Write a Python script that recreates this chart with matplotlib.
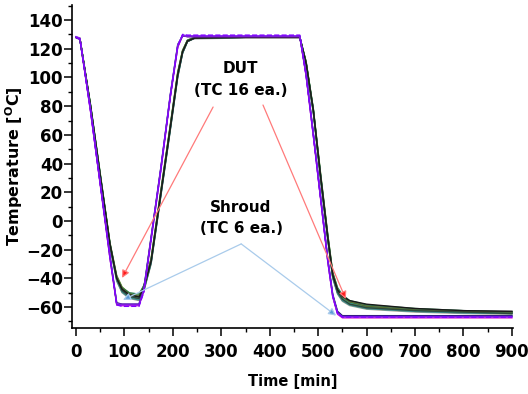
import matplotlib
matplotlib.use("Agg")
import matplotlib.pyplot as plt
from matplotlib.ticker import MultipleLocator

plt.rcParams['font.family'] = ['DejaVu Sans']
plt.rcParams['font.weight'] = 'bold'
plt.rcParams['mathtext.default'] = 'bf'

# time grid [min]
t = [0, 8, 30, 50, 70, 84, 95, 110, 130, 140, 155, 175, 195, 210, 220, 230, 245, 350,
     462, 475, 490, 505, 520, 530, 540, 550, 565, 600, 700, 800, 900]

# DUT thermocouples
dut_1 = [128, 127, 80, 32, -16, -40, -48, -52, -53.5, -47, -28, 19, 66, 102, 118, 125.5, 127.5, 128,
         128, 110, 77, 31, -12, -38, -49, -54, -57.5, -60.5, -62.5, -63.5, -64]
dut_2 = [128, 127, 79, 30, -18, -42, -50, -54, -55.5, -49, -30, 17, 64, 100, 117, 125, 127.5, 128,
         128, 109, 75, 29, -14, -40, -51, -56, -59, -61.5, -63.5, -64.5, -65]
dut_3 = [128, 127.5, 81, 33, -15, -38, -46, -50.5, -52, -45, -26, 21, 68, 104, 119, 126, 128, 128,
         128, 111, 78, 33, -10, -36, -47, -52.5, -56.5, -59.5, -62, -63, -63.5]
dut_4 = [128, 127, 80, 31, -17, -41, -49, -53, -54, -48, -29, 18, 65, 101, 117.5, 125, 127.5, 128,
         128, 110, 76, 30, -13, -39, -50, -55, -58.5, -61, -63, -64, -64.5]
dut_5 = [127.5, 126.5, 79.5, 31.5, -16.5, -39, -47, -51, -52.5, -46, -27, 20, 67, 103, 118.5, 125.5, 127, 127.5,
         127.5, 110, 77, 32, -11, -37, -48, -53, -56, -59, -61.5, -62.5, -63]
dut_6 = [128, 127, 80.5, 32.5, -15.5, -39.5, -47.5, -51.5, -53, -46.5, -27.5, 19.5, 66.5, 102.5, 118, 125.5, 127.5, 128,
         128, 110.5, 77.5, 31.5, -11.5, -37.5, -48.5, -53.5, -57, -60, -62, -63, -63.5]
dut_7 = [128, 127, 79.5, 31, -17, -40.5, -49, -53, -54.5, -48, -29, 18, 65, 101, 117, 125, 127.5, 128,
         128, 109.5, 76, 30, -13, -39, -50, -55, -58, -60.5, -62.5, -63.5, -64]
dut_8 = [128, 127, 80, 32, -16, -39, -46.5, -50, -51, -45, -27, 20, 67, 103, 118.5, 126, 128, 128,
         128, 111, 78, 32, -10.5, -36, -46.5, -51.5, -55.5, -58.5, -61, -62.5, -63.5]
dut_9 = [128, 127, 79, 30.5, -17.5, -41.5, -49.5, -53.5, -55, -48.5, -29.5, 17.5, 64.5, 100.5, 117, 125, 127.5, 128,
         128, 109, 75.5, 29.5, -13.5, -39.5, -50.5, -55.5, -58.5, -61, -63, -64, -64.5]
dut_10 = [128, 127, 80.5, 32, -15.5, -39, -47, -51, -52.5, -46, -27, 20, 67, 103, 118.5, 125.5, 127.5, 128,
          128, 110.5, 77, 31, -11.5, -37, -48, -53, -56.5, -59.5, -62, -63, -63.5]
dut_11 = [128, 127, 79.5, 31.5, -16.5, -40, -48.5, -52.5, -54, -47.5, -28.5, 18.5, 65.5, 101.5, 117.5, 125, 127.5, 128,
          128, 110, 76.5, 30.5, -12.5, -38.5, -49.5, -54.5, -58, -60.5, -62.5, -63.5, -64.5]
dut_12 = [128, 127, 80, 31.5, -16, -40, -47.5, -51.5, -53, -46.5, -28, 19, 66, 102, 118, 125.5, 127.5, 128,
          128, 110, 77, 31, -12, -37.5, -48, -52.5, -55.5, -58, -61, -62.5, -63]

# Shroud thermocouples
shroud_1 = [128, 127, 77, 26, -25, -58, -58.5, -58.5, -58.5, -48, -12, 36, 88, 122, 129.5, 129, 129, 129,
            129, 102, 60, 16, -28, -52, -64, -66.5, -66.5, -66.5, -66.5, -66.5, -66.5]
shroud_2 = [128, 127, 76, 25, -26, -58.5, -59, -59, -59, -49, -13, 35, 87, 121, 129, 128.5, 128.5, 128.5,
            128.5, 101, 59, 15, -29, -53, -65, -67.5, -67.5, -67.5, -67.5, -67.5, -67.5]
shroud_3 = [128, 127, 78, 27, -24, -57, -58, -58, -58, -47, -11, 37, 89, 123, 129, 128.5, 128.5, 128.5,
            128.5, 103, 61, 17, -27, -51, -63, -66, -66, -66, -66, -66, -66]
shroud_4 = [128.5, 127.5, 77.5, 26.5, -24.5, -57.5, -58.5, -58.5, -58.5, -48.5, -12.5, 36.5, 88.5, 122.5, 129.5, 129, 129, 129,
            129, 102.5, 60.5, 16.5, -27.5, -52, -64.5, -67, -67, -67, -67, -67, -67]
shroud_5 = [128, 127, 77, 26, -25, -58, -58, -58, -58, -48, -12, 36, 88, 122, 129, 128.5, 128.5, 128.5,
            128.5, 102, 60, 16, -28, -52, -64, -66.5, -66.5, -66.5, -66.5, -66.5, -66.5]
shroud_6 = [128, 126.5, 76.5, 25.5, -25.5, -58.5, -59.5, -59.5, -59.5, -49.5, -13.5, 35.5, 87.5, 121.5, 130, 129.5, 129.5, 129.5,
            129.5, 101.5, 59.5, 15.5, -28.5, -52.5, -64.5, -67, -67, -67, -67, -67, -67]

dut_series = [dut_1, dut_2, dut_3, dut_4, dut_5, dut_6, dut_7, dut_8, dut_9, dut_10, dut_11, dut_12]
dut_colors = ['#8fbf8f', '#a0a090', '#6b8e23', '#5f9ea0', '#7a7a7a', '#20b2aa',
              '#4a6070', '#2f7f4f', '#3a8a8a', '#556b2f', '#2e4a3a', '#1a1a1a']
shroud_series = [shroud_1, shroud_2, shroud_3, shroud_4, shroud_5, shroud_6]
shroud_colors = ['#3050d0', '#cc00cc', '#1a1a66', '#9933ff', '#7a1fd6', '#8000ff']
shroud_styles = ['-', '-', '-', '-', '-', '--']

fig = plt.figure(figsize=(5.28, 3.94), dpi=100)
ax = fig.add_axes([0.1364, 0.1675, 0.835, 0.8198])

for vals, c in zip(dut_series, dut_colors):
    ax.plot(t, vals, color=c, lw=1.0)
for vals, c, ls in zip(shroud_series, shroud_colors, shroud_styles):
    ax.plot(t, vals, color=c, lw=1.0, ls=ls)

ax.set_xlim(-8.3, 902)
ax.set_ylim(-74.6, 150.5)
ax.xaxis.set_major_locator(MultipleLocator(100))
ax.xaxis.set_minor_locator(MultipleLocator(50))
ax.yaxis.set_major_locator(MultipleLocator(20))
ax.yaxis.set_minor_locator(MultipleLocator(10))
for s in ['top', 'right']:
    ax.spines[s].set_visible(False)
for s in ['left', 'bottom']:
    ax.spines[s].set_linewidth(1.2)
ax.tick_params(which='major', direction='out', length=5.5, width=1.1, labelsize=12)
ax.tick_params(axis='y', which='major', pad=1)
ax.tick_params(axis='x', which='major', pad=5)
ax.tick_params(which='minor', direction='out', length=3, width=1.0)
for lab in ax.get_xticklabels() + ax.get_yticklabels():
    lab.set_fontweight('bold')

ax.set_xlabel('Time [min]', fontsize=10.5, fontweight='bold', labelpad=10)
ax.set_ylabel(r'Temperature [$^{\mathbf{O}}$C]', fontsize=11.5, fontweight='bold', labelpad=1)

# annotations
ax.text(340, 106.5, 'DUT', ha='center', va='center', fontsize=11, fontweight='bold')
ax.text(341, 91, '(TC 16 ea.)', ha='center', va='center', fontsize=11, fontweight='bold')
ax.text(340, 9.5, 'Shroud', ha='center', va='center', fontsize=11, fontweight='bold')
ax.text(341, -5, '(TC 6 ea.)', ha='center', va='center', fontsize=11, fontweight='bold')

red = dict(arrowstyle='-|>', ec='#ff7a7a', fc='#ff1a1a', lw=0.9, mutation_scale=11, shrinkA=0, shrinkB=0)
ax.annotate('', xy=(95, -39.7), xytext=(283, 79.4), arrowprops=red)
ax.annotate('', xy=(557, -54.4), xytext=(386, 80.8), arrowprops=red)
blue = dict(arrowstyle='-|>', ec='#a9cbeb', fc='#5b9bd5', lw=0.9, mutation_scale=11, shrinkA=0, shrinkB=0)
ax.annotate('', xy=(97, -55), xytext=(341, -16), arrowprops=blue)
ax.annotate('', xy=(537, -66), xytext=(341, -16), arrowprops=blue)

fig.savefig('out.png', dpi=100)
